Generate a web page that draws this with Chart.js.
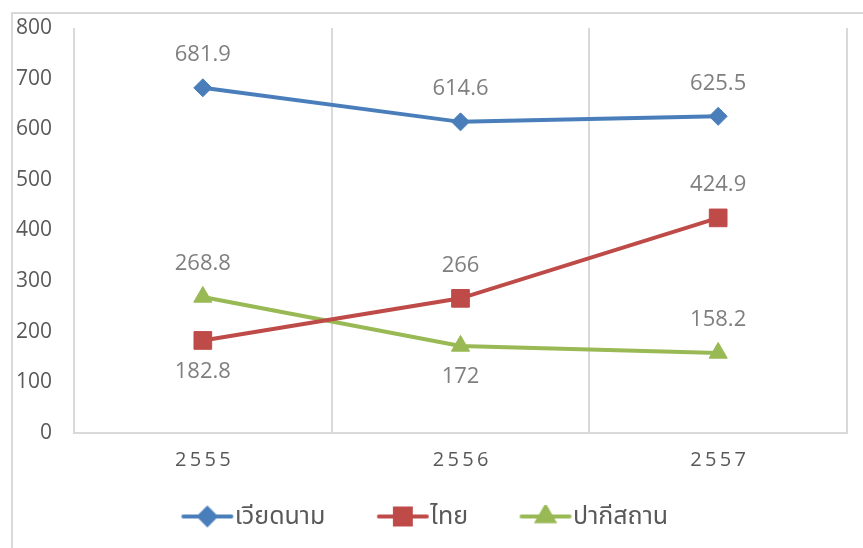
<!DOCTYPE html>
<html>
<head>
<meta charset="utf-8">
<script src="https://cdn.jsdelivr.net/npm/chart.js@4.4.0/dist/chart.umd.min.js"></script>
<style>
  html, body { margin: 0; padding: 0; background: #fff; overflow: hidden; }
  #wrap { position: relative; width: 863px; height: 548px; }
</style>
</head>
<body>
<div id="wrap"><canvas id="myChart" width="863" height="548"></canvas></div>
<script>
// data
const years = ['2555', '2556', '2557'];
const seriesNames = ['เวียดนาม', 'ไทย', 'ปากีสถาน'];
const vietnam = [681.9, 614.6, 625.5];
const thailand = [182.8, 266, 424.9];
const pakistan = [268.8, 172, 158.2];
const yMax = 800;
const yStep = 100;

// where each value label sits relative to its point
const labelSide = [
  ['up', 'up', 'up'],
  ['down', 'up', 'up'],
  ['up', 'down', 'up']
];

const colors = ['#4a7ebb', '#be4b48', '#98b954'];
const shapes = ['rectRot', 'rect', 'triangle'];
const radii = [9, 12.5, 10.5];
const fontFamily = "'Open Sans', 'Noto Sans', 'Noto Sans Thai', Tahoma, sans-serif";

// legend box width; the icon sits at the right end of it, next to the text
const legendBoxW = 56;

// little line + marker icon for the legend, like Excel draws it
function legendIcon(i) {
  const c = document.createElement('canvas');
  c.width = 80;
  c.height = 24;
  const g = c.getContext('2d');
  const x0 = 27; // icon drawn in the right part, blank space on the left
  g.strokeStyle = colors[i];
  g.lineWidth = 4;
  g.lineCap = 'round';
  g.beginPath();
  g.moveTo(x0 + 2, 12);
  g.lineTo(x0 + 50, 12);
  g.stroke();
  Chart.helpers.drawPoint(g, { pointStyle: shapes[i], radius: radii[i] * 0.9, borderWidth: 1 }, x0 + 26, 12);
  g.fillStyle = colors[i];
  g.fill();
  return c;
}

const framePlugin = {
  id: 'frame',
  beforeDraw(chart) {
    const ctx = chart.ctx;
    ctx.save();
    ctx.strokeStyle = '#d9d9d9';
    ctx.lineWidth = 2;
    ctx.beginPath();
    ctx.moveTo(12, 548);
    ctx.lineTo(12, 13);
    ctx.lineTo(863, 13);
    ctx.stroke();
    ctx.restore();
  }
};

const valueLabels = {
  id: 'valueLabels',
  afterDatasetsDraw(chart) {
    const ctx = chart.ctx;
    ctx.save();
    ctx.font = '22px ' + fontFamily;
    ctx.fillStyle = '#7f7f7f';
    ctx.textAlign = 'center';
    ctx.textBaseline = 'middle';
    chart.data.datasets.forEach((ds, di) => {
      chart.getDatasetMeta(di).data.forEach((pt, i) => {
        const dy = labelSide[di][i] === 'up' ? -33 : 31;
        ctx.fillText(String(ds.data[i]), pt.x, pt.y + dy);
      });
    });
    ctx.restore();
  }
};

const seriesData = [vietnam, thailand, pakistan];

const data = {
  labels: years,
  datasets: seriesData.map((vals, i) => ({
    label: seriesNames[i],
    data: vals,
    borderColor: colors[i],
    backgroundColor: colors[i],
    borderWidth: 4,
    tension: 0,
    pointStyle: shapes[i],
    pointRadius: radii[i],
    pointHoverRadius: radii[i],
    pointBorderWidth: 1,
    pointBackgroundColor: colors[i],
    pointBorderColor: colors[i]
  }))
};

const options = {
  responsive: false,
  animation: false,
  devicePixelRatio: 1,
  layout: { padding: { left: 0, top: 28, right: 16, bottom: 9 } },
  scales: {
    x: {
      offset: true,
      grid: { offset: true, color: '#d9d9d9', lineWidth: 2, drawTicks: false },
      border: { color: '#d9d9d9', width: 2 },
      ticks: {
        padding: 15,
        color: '#595959',
        font: { size: 20, family: fontFamily },
        // the years are printed letter-spaced in the original
        callback: (v, i) => years[i].split('').join('\u2009')
      },
      afterFit: s => { s.height = 47; }
    },
    y: {
      min: 0,
      max: yMax,
      grid: { display: false, drawTicks: false },
      border: { display: false },
      ticks: {
        stepSize: yStep,
        padding: 22,
        color: '#595959',
        font: { size: 21, family: fontFamily }
      },
      afterFit: s => { s.width = 74; s.paddingTop = 0; }
    }
  },
  plugins: {
    tooltip: { enabled: false },
    legend: {
      position: 'bottom',
      labels: {
        usePointStyle: true,
        pointStyleWidth: legendBoxW,
        padding: 24,
        color: '#595959',
        font: { size: 25, family: fontFamily },
        generateLabels: chart => {
          const items = Chart.defaults.plugins.legend.labels.generateLabels(chart);
          items.forEach((it, i) => {
            it.pointStyle = legendIcon(i);
            it.text = it.text + '\u2002';
          });
          return items;
        }
      }
    }
  }
};

const config = {
  type: 'line',
  data: data,
  options: options,
  plugins: [framePlugin, valueLabels]
};

const ctx = document.getElementById('myChart').getContext('2d');
new Chart(ctx, config);
</script>
</body>
</html>
